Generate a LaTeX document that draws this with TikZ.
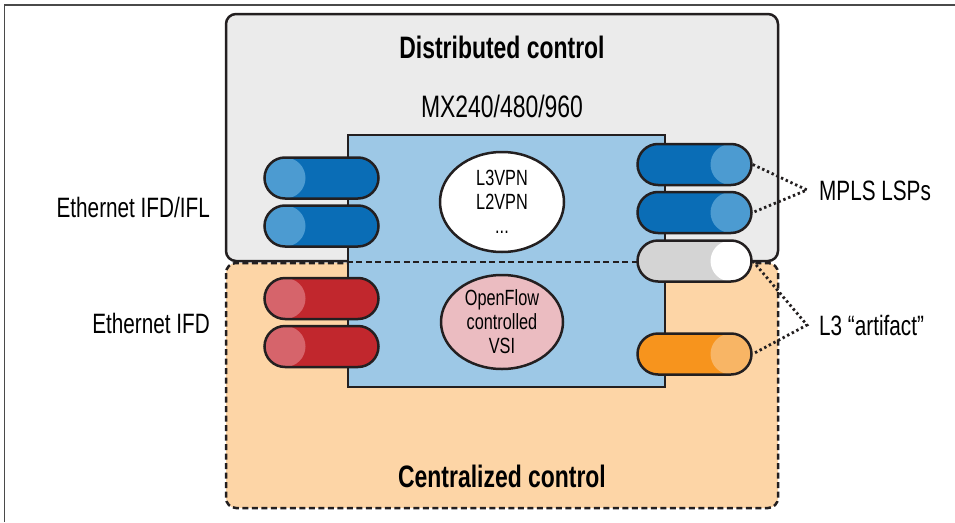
\documentclass[tikz,border=0pt]{standalone}
\usepackage{fontspec}
\setmainfont{Liberation Sans}[FakeStretch=0.74]
\usetikzlibrary{shapes.misc,shapes.geometric}
\definecolor{ink}{HTML}{231F20}
\definecolor{boxgray}{HTML}{EBEBEB}
\definecolor{boxorange}{HTML}{FDD5A6}
\definecolor{boxblue}{HTML}{9DC8E6}
\definecolor{pblue}{HTML}{0A6DB6}
\definecolor{pbluehl}{HTML}{4C9BD1}
\definecolor{pred}{HTML}{C1272D}
\definecolor{predhl}{HTML}{D6646B}
\definecolor{pgray}{HTML}{D4D4D4}
\definecolor{porange}{HTML}{F7941D}
\definecolor{porangehl}{HTML}{F8B565}
\definecolor{pink}{HTML}{EBBCC1}
\definecolor{framegray}{HTML}{4A4A4A}
\tikzset{
  pill/.style={rounded rectangle, draw=ink, line width=2.5pt, minimum width=114pt, minimum height=41pt, inner sep=0pt},
  pillL/.style 2 args={pill, fill=#1, path picture={\fill[#2] ([xshift=20.5pt]path picture bounding box.west) circle (20.5pt);}},
  pillR/.style 2 args={pill, fill=#1, path picture={\fill[#2] ([xshift=-20.5pt]path picture bounding box.east) circle (20.5pt);}},
  ell/.style={ellipse, draw=ink, line width=2.5pt, inner sep=0pt},
  lbl/.style={font=\fontsize{28}{32}\selectfont, inner sep=0pt},
  ttl/.style={font=\fontsize{31}{35}\selectfont\bfseries, inner sep=0pt},
  eltext/.style={font=\fontsize{22}{24}\selectfont, align=center, inner sep=0pt},
  dotline/.style={draw=ink, line width=2.8pt, dash pattern=on 2.4pt off 2.8pt},
  dashline/.style={dash pattern=on 6pt off 3.5pt},
}
\begin{document}
\begin{tikzpicture}[x=1pt,y=-1pt]
\useasboundingbox (0,0) rectangle (955,522);
% frame lines
\draw[framegray, line width=1.8pt] (4.5,522) -- (4.5,5) -- (955,5);
% control regions
\draw[ink, fill=boxgray, line width=2.5pt, rounded corners=10pt] (226,14) rectangle (778,261);
\draw[ink, fill=boxorange, line width=2.5pt, rounded corners=10pt, dashline] (226,263) rectangle (778,508);
% router box
\node[draw=ink, fill=boxblue, line width=2.5pt, minimum width=317pt, minimum height=252pt, inner sep=0pt] (router) at (506.5,261) {};
\draw[ink, line width=2.5pt, dashline] (router.west |- 0,262) -- (router.east |- 0,262);
% pills
\node[pillL={pblue}{pbluehl}] (lp1) at (321.5,178) {};
\node[pillL={pblue}{pbluehl}] (lp2) at (321.5,226) {};
\node[pillL={pred}{predhl}] (lr1) at (321.5,298.5) {};
\node[pillL={pred}{predhl}] (lr2) at (321.5,346.5) {};
\node[pillR={pblue}{pbluehl}] (rp1) at (694.5,164.5) {};
\node[pillR={pblue}{pbluehl}] (rp2) at (694.5,212.5) {};
\node[pillR={pgray}{white}] (rg) at (694.5,261) {};
\node[pillR={porange}{porangehl}] (ro) at (694.5,354) {};
% ellipses
\node[ell, fill=white, minimum width=124pt, minimum height=100pt] (vpn) at (502,202) {};
\node[eltext] (vpntext) at (vpn) {L3VPN\\L2VPN\\...};
\node[ell, fill=pink, minimum width=122pt, minimum height=94pt] (vsi) at (502,322) {};
\node[eltext] (vsitext) at (vsi) {OpenFlow\\controlled\\VSI};
% titles
\node[ttl, anchor=base] (dist) at (502,58) {Distributed control};
\node[lbl, anchor=base, font=\fontsize{31}{35}\selectfont] (mx) at (502,117) {MX240/480/960};
\node[ttl, anchor=base] (cent) at (502,487) {Centralized control};
% side labels
\node[lbl, anchor=base east] (eth1) at (210,217) {Ethernet IFD/IFL};
\node[lbl, anchor=base east] (eth2) at (210,333) {Ethernet IFD};
\node[lbl, anchor=base west] (mpls) at (819,200) {MPLS LSPs};
\node[lbl, anchor=base west] (art) at (819,335) {L3 “artifact”};
\coordinate (mplsin) at (807,190);
\coordinate (artin) at (807,325);
% connectors
\draw[dotline] (rp1.east) -- (mplsin) -- (rp2.east);
\draw[dotline] (rg.east) -- (artin) -- (ro.east);
\end{tikzpicture}
\end{document}
